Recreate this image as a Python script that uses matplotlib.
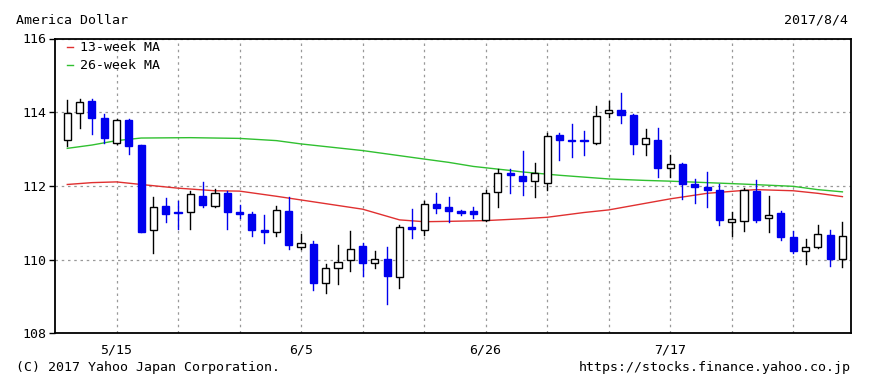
import matplotlib
matplotlib.use("Agg")
import matplotlib.pyplot as plt
from matplotlib.patches import Rectangle

# daily candles, 2017/5/9 .. 2017/8/4 (weekdays)
opens = [113.25, 113.97, 114.30, 113.85, 113.16, 113.80, 113.11, 110.80, 111.46, 111.29,
         111.28, 111.73, 111.45, 111.82, 111.29, 111.24, 110.81, 110.74, 111.31, 110.35,
         110.42, 109.36, 109.77, 109.98, 110.36, 109.92, 110.03, 109.52, 110.89, 110.80,
         111.51, 111.44, 111.32, 111.32, 111.07, 111.84, 112.35, 112.28, 112.13, 112.09,
         113.38, 113.25, 113.25, 113.16, 113.97, 114.05, 113.93, 113.13, 113.25, 112.49,
         112.60, 112.06, 111.96, 111.88, 111.03, 111.05, 111.87, 111.12, 111.26, 110.62,
         110.24, 110.34, 110.67, 110.01]
highs = [114.32, 114.36, 114.37, 113.94, 113.82, 113.82, 113.12, 111.71, 111.68, 111.60,
         111.86, 112.11, 111.92, 111.85, 111.49, 111.30, 111.21, 111.46, 111.71, 110.71,
         110.50, 109.89, 110.39, 110.79, 110.46, 110.23, 110.35, 110.95, 111.38, 111.60,
         111.80, 111.71, 111.34, 111.42, 111.88, 112.45, 112.45, 112.94, 112.62, 113.45,
         113.45, 113.69, 113.49, 114.18, 114.30, 114.52, 113.95, 113.54, 113.58, 112.84,
         112.63, 112.20, 112.39, 112.06, 111.30, 111.95, 112.17, 111.72, 111.32, 110.79,
         110.56, 110.95, 110.81, 111.03]
lows = [113.09, 113.58, 113.40, 113.16, 113.14, 112.87, 110.74, 110.19, 111.02, 110.83,
        110.84, 111.44, 111.43, 110.83, 111.14, 110.63, 110.44, 110.63, 110.28, 110.28,
        109.19, 109.09, 109.33, 109.69, 109.56, 109.77, 108.80, 109.22, 110.59, 110.68,
        111.26, 111.03, 111.21, 111.13, 111.05, 111.42, 111.81, 111.75, 111.69, 111.88,
        112.71, 112.78, 112.84, 113.14, 113.88, 113.72, 112.87, 112.84, 112.24, 112.24,
        111.64, 111.53, 111.44, 110.95, 110.63, 110.77, 111.01, 110.74, 110.53, 110.17,
        109.87, 110.32, 109.83, 109.81]
closes = [113.97, 114.28, 113.84, 113.30, 113.78, 113.09, 110.76, 111.44, 111.24, 111.27,
          111.77, 111.47, 111.81, 111.29, 111.23, 110.81, 110.74, 111.35, 110.39, 110.45,
          109.36, 109.77, 109.95, 110.30, 109.90, 110.02, 109.55, 110.88, 110.84, 111.50,
          111.40, 111.33, 111.27, 111.24, 111.82, 112.36, 112.29, 112.13, 112.35, 113.36,
          113.26, 113.23, 113.22, 113.90, 114.05, 113.92, 113.13, 113.29, 112.48, 112.60,
          112.05, 111.96, 111.88, 111.08, 111.10, 111.88, 111.08, 111.21, 110.62, 110.23,
          110.35, 110.70, 110.01, 110.65]

# moving averages, read at some candle positions
ma13_x = [0, 2, 4, 6, 9, 12, 14, 17, 19, 24, 27, 29, 31, 34, 37, 39, 42, 44, 47, 49, 52, 55, 56, 59, 61, 63]
ma13_y = [112.04, 112.09, 112.11, 112.04, 111.94, 111.87, 111.86, 111.72, 111.62, 111.37, 111.08, 111.03, 111.04,
          111.06, 111.11, 111.15, 111.28, 111.35, 111.53, 111.65, 111.80, 111.88, 111.90, 111.87, 111.80, 111.71]
ma26_x = [0, 2, 4, 6, 10, 14, 17, 19, 24, 29, 31, 33, 36, 37, 40, 42, 44, 47, 49, 52, 55, 59, 61, 63]
ma26_y = [113.02, 113.11, 113.23, 113.30, 113.31, 113.29, 113.23, 113.14, 112.96, 112.73, 112.64, 112.53,
          112.42, 112.38, 112.29, 112.24, 112.19, 112.15, 112.13, 112.09, 112.05, 111.99, 111.90, 111.84]

monday_idx = [4, 9, 14, 19, 24, 29, 34, 39, 44, 49, 54, 59]
monday_lbl = ['5/15', '', '', '6/5', '', '', '6/26', '', '', '7/17', '', '']
y_ticks = [108, 110, 112, 114, 116]

mono = 'DejaVu Sans Mono'
fs = 9.5
blue = '#0000ee'

fig = plt.figure(figsize=(8.7, 3.85), dpi=100)
ax = fig.add_axes([0.0632, 0.134, 0.915, 0.766])

# candles
w = 0.58
for i, (o, h, l, c) in enumerate(zip(opens, highs, lows, closes)):
    up = c >= o
    col = 'black' if up else blue
    ax.plot([i, i], [l, h], color=col, lw=1, zorder=3)
    lo, hi = min(o, c), max(o, c)
    ax.add_patch(Rectangle((i - w / 2, lo), w, max(hi - lo, 0.02),
                           facecolor='white' if up else blue, edgecolor=col, lw=1, zorder=4))

ax.plot(ma13_x, ma13_y, color='#e03030', lw=1, zorder=2)
ax.plot(ma26_x, ma26_y, color='#30c030', lw=1, zorder=2)

ax.set_xlim(-1.0, 63.7)
ax.set_ylim(108, 116)
ax.set_xticks(monday_idx)
ax.set_xticklabels(monday_lbl, family=mono, fontsize=fs)
ax.set_yticks(y_ticks)
ax.set_yticklabels([str(v) for v in y_ticks], family=mono, fontsize=fs)
ax.tick_params(axis='x', length=0, pad=7)
ax.tick_params(axis='y', length=4, width=1, pad=2, direction='out')
ax.grid(True, color='#999999', lw=0.9, linestyle=(0, (2, 3)))
for s in ax.spines.values():
    s.set_linewidth(1.3)

# legend
ax.plot([0.015, 0.023], [0.971, 0.971], transform=ax.transAxes, color='#e03030', lw=1)
ax.plot([0.015, 0.023], [0.910, 0.910], transform=ax.transAxes, color='#30c030', lw=1)
ax.text(0.031, 0.971, '13-week MA', transform=ax.transAxes, family=mono, fontsize=fs, va='center')
ax.text(0.031, 0.910, '26-week MA', transform=ax.transAxes, family=mono, fontsize=fs, va='center')

fig.text(16 / 870, 1 - 20 / 385, 'America Dollar', family=mono, fontsize=fs, va='center')
fig.text(848 / 870, 1 - 20 / 385, '2017/8/4', family=mono, fontsize=fs, va='center', ha='right')
fig.text(16 / 870, 1 - 367 / 385, '(C) 2017 Yahoo Japan Corporation.', family=mono, fontsize=fs, va='center')
fig.text(851 / 870, 1 - 367 / 385, 'https://stocks.finance.yahoo.co.jp', family=mono, fontsize=fs,
         va='center', ha='right')

fig.savefig('out.png', dpi=100)
